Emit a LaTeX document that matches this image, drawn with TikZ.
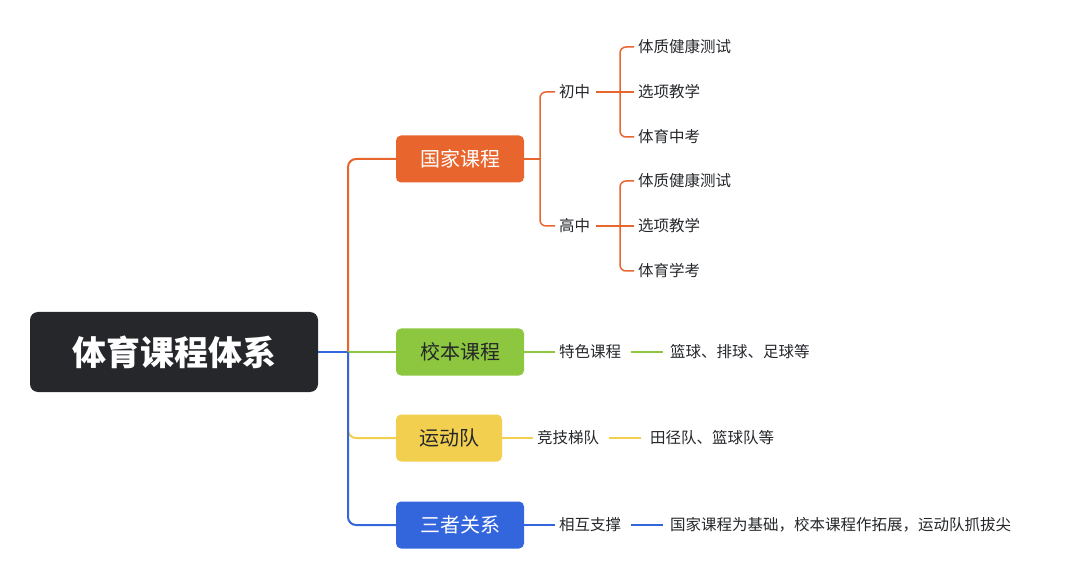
\documentclass[tikz,border=0pt]{standalone}
\usepackage{fontspec}
\setmainfont{Noto Sans CJK SC}
\usetikzlibrary{positioning}
\definecolor{rootc}{RGB}{37,39,43}
\definecolor{orangec}{RGB}{232,101,46}
\definecolor{greenc}{RGB}{141,198,63}
\definecolor{yellowc}{RGB}{242,207,78}
\definecolor{bluec}{RGB}{51,102,221}
\tikzset{
    branch/.style={rectangle, rounded corners=5pt, minimum height=47pt, text centered, font=\fontsize{20}{24}\selectfont},
    leaf/.style={inner sep=0pt, anchor=west, font=\fontsize{15.5}{18}\selectfont, text=rootc},
    link/.style={line width=2pt, rounded corners=8pt}
}
\begin{document}
\begin{tikzpicture}[x=1pt, y=-1pt]
    \useasboundingbox (0,0) rectangle (1080,580);
    % Root
    \node[branch, fill=rootc, text=white, minimum width=288pt, minimum height=80pt, rounded corners=8pt,
          font=\fontsize{34}{40}\selectfont\bfseries] (root) at (174,352) {体育课程体系};
    % Main branches
    \node[branch, fill=orangec, text=white, minimum width=128pt] (national) at (460,159) {国家课程};
    \node[branch, fill=greenc, text=rootc, minimum width=128pt] (school) at (460,352) {校本课程};
    \node[branch, fill=yellowc, text=rootc, minimum width=106pt] (team) at (449,438) {运动队};
    \node[branch, fill=bluec, text=white, minimum width=128pt] (relation) at (460,525) {三者关系};
    \coordinate (hub) at (348,352);
    \draw[link, bluec] (root.east) -- (hub);
    \draw[link, orangec] (hub) |- (national.west);
    \draw[link, greenc] (hub) -- (school.west);
    \draw[link, yellowc] (hub) |- (team.west);
    \draw[link, bluec] (hub) |- (relation.west);
    % National
    \node[leaf] (junior) at (559,92) {初中};
    \node[leaf] (senior) at (559,226) {高中};
    \coordinate (nfork) at (540,159);
    \draw[line width=1.5pt, orangec] (national.east) -- (nfork);
    \draw[line width=1.5pt, orangec, rounded corners=6pt] (nfork) |- ([xshift=-4pt]junior.west);
    \draw[line width=1.5pt, orangec, rounded corners=6pt] (nfork) |- ([xshift=-4pt]senior.west);
    \foreach \grp/\yc/\tA/\tB/\tC in {junior/92/体质健康测试/选项教学/体育中考, senior/226/体质健康测试/选项教学/体育学考} {
        \node[leaf] (\grp-a) at (638,\yc-45) {\tA};
        \node[leaf] (\grp-b) at (638,\yc) {\tB};
        \node[leaf] (\grp-c) at (638,\yc+45) {\tC};
        \coordinate (\grp-fork) at (620,\yc);
        \draw[line width=1.5pt, orangec] ([xshift=6pt]\grp.east) -- (\grp-fork);
        \draw[line width=1.5pt, orangec, rounded corners=6pt] (\grp-fork) |- ([xshift=-4pt]\grp-a.west);
        \draw[line width=1.5pt, orangec] (\grp-fork) -- ([xshift=-4pt]\grp-b.west);
        \draw[line width=1.5pt, orangec, rounded corners=6pt] (\grp-fork) |- ([xshift=-4pt]\grp-c.west);
    }
    % School
    \node[leaf] (feature) at (559,352) {特色课程};
    \node[leaf] (balls) at (670,352) {篮球、排球、足球等};
    \draw[line width=1.5pt, greenc] (school.east) -- ([xshift=-4pt]feature.west);
    \draw[line width=1.5pt, greenc] ([xshift=10pt]feature.east) -- ([xshift=-7pt]balls.west);
    % Team
    \node[leaf] (echelon) at (537,438) {竞技梯队};
    \node[leaf] (teams) at (650,438) {田径队、篮球队等};
    \draw[line width=1.5pt, yellowc] (team.east) -- ([xshift=-4pt]echelon.west);
    \draw[line width=1.5pt, yellowc] ([xshift=10pt]echelon.east) -- ([xshift=-9pt]teams.west);
    % Relation
    \node[leaf] (support) at (559,525) {相互支撑};
    \node[leaf] (summary) at (670,525) {国家课程为基础，校本课程作拓展，运动队抓拔尖};
    \draw[line width=1.5pt, bluec] (relation.east) -- ([xshift=-4pt]support.west);
    \draw[line width=1.5pt, bluec] ([xshift=10pt]support.east) -- ([xshift=-7pt]summary.west);
\end{tikzpicture}
\end{document}
